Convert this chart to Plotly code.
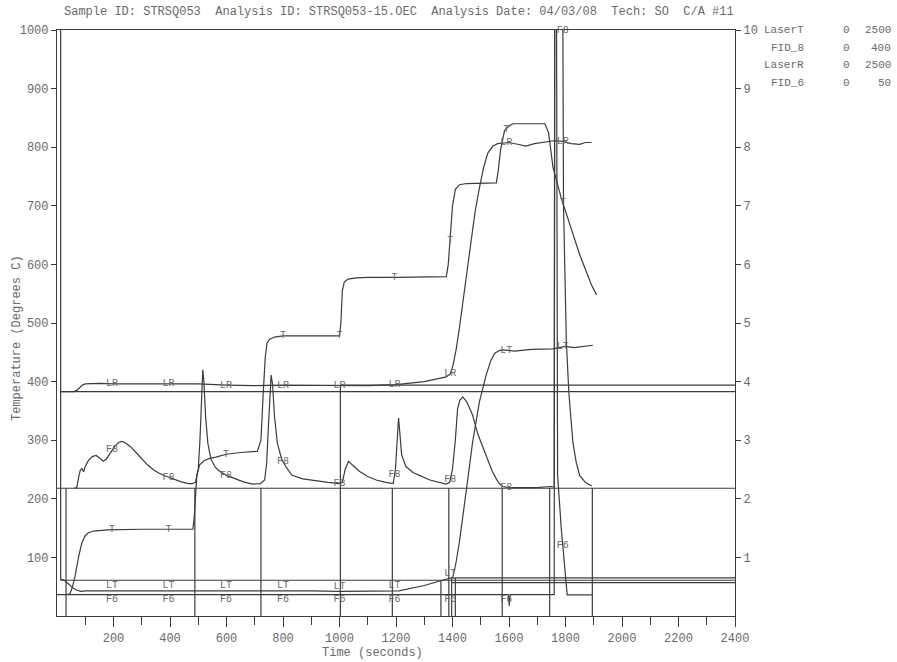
import numpy as np
import plotly.graph_objects as go

# ---------------- data ----------------
t_T = [35, 46, 55, 64, 76, 88, 100, 111, 130, 180, 300, 400, 481, 486, 490, 495, 505, 520, 540, 562,
       600, 650, 709, 722, 730, 737, 743, 752, 770, 800, 900, 1000, 1005, 1010, 1017, 1030, 1060,
       1100, 1200, 1300, 1378, 1385, 1392, 1400, 1410, 1425, 1450, 1500, 1555, 1562, 1570, 1584,
       1600, 1614, 1650, 1700, 1727, 1740, 1756, 1785, 1820, 1850, 1892, 1910]
v_T = [37, 38, 50, 68, 100, 125, 137, 142, 145, 147, 148, 148, 148, 170, 205, 240, 258, 265, 269, 271,
       276, 279, 281, 300, 380, 440, 465, 472, 476, 478, 478, 478, 500, 555, 570, 575, 577,
       578, 578, 578, 579, 600, 640, 700, 728, 736, 738, 738, 739, 760, 795, 828,
       836, 840, 840, 840, 840, 825, 765, 713, 660, 617, 565, 548]

t_LR = [13, 60, 70, 80, 90, 100, 150, 200, 300, 400, 500, 600, 700, 800, 900, 1000, 1100, 1200,
        1300, 1378, 1392, 1402, 1413, 1424, 1440, 1460, 1480, 1495, 1510, 1525, 1543, 1560, 1600,
        1630, 1660, 1690, 1720, 1760, 1790, 1820, 1850, 1870, 1892]
v_LR = [383, 383, 385, 390, 394, 396, 397, 396, 396, 397, 396, 394, 393, 394, 394, 393, 393, 395,
        400, 408, 413, 428, 455, 490, 550, 620, 690, 730, 765, 790, 802, 806, 808,
        805, 802, 806, 808, 811, 810, 806, 805, 808, 808]

t_LT = [13, 13, 20, 28, 40, 55, 70, 85, 100, 200, 300, 400, 500, 600, 700, 800, 900, 1000, 1100,
        1211, 1300, 1377, 1401, 1412, 1424, 1448, 1471, 1495, 1519, 1535, 1549, 1565, 1578, 1620,
        1680, 1755, 1800, 1830, 1897]
v_LT = [1100, 62, 62, 60, 55, 48, 44, 42, 43, 43, 43, 44, 44, 44, 43, 44, 43, 42, 42,
        43, 52, 62, 66, 90, 125, 211, 296, 365, 411, 435, 448, 453, 454, 452,
        455, 456, 460, 458, 462]

t_F8 = [60, 70, 78, 82, 88, 94, 100, 112, 125, 138, 150, 163, 175, 190, 205, 218, 229, 240, 260,
        280, 300, 320, 340, 360, 384, 410, 440, 465, 478, 490, 500, 506, 512, 516, 520, 526, 534,
        545, 560, 573, 600, 630, 660, 691, 720, 735, 742, 748, 754, 758, 763, 770, 780, 795, 810,
        832, 870, 920, 960, 998, 1010, 1020, 1032, 1045, 1070, 1100, 1130, 1164, 1190, 1198, 1203,
        1209, 1214, 1220, 1235, 1260, 1283, 1320, 1377, 1390, 1400, 1410, 1418, 1426, 1436, 1450,
        1471, 1490, 1519, 1540, 1555, 1565, 1578, 1600, 1700, 1735, 1745, 1760, 1762, 1790, 1793,
        1803, 1812, 1826, 1838, 1850, 1870, 1893]
v_F8 = [218, 219, 240, 248, 252, 246, 255, 266, 272, 274, 270, 264, 268, 280, 290, 296, 298, 296, 289,
        279, 268, 258, 250, 244, 239, 234, 229, 226, 226, 228, 250, 300, 380, 420, 400, 340, 295,
        268, 254, 248, 240, 234, 229, 225, 226, 232, 260, 320, 390, 411, 395, 340, 295, 268, 255,
        240, 234, 230, 228, 226, 228, 250, 264, 258, 247, 238, 232, 228, 226, 250, 300,
        338, 310, 275, 255, 245, 240, 232, 225, 228, 251, 300, 354, 368, 374, 366,
        343, 310, 274, 248, 234, 226, 221, 219, 219, 221, 221, 220, 1100, 1100, 700,
        468, 380, 297, 262, 240, 228, 222]

t_F6 = [0, 1598, 1601, 1604, 1760, 1762, 1768, 1772, 1785, 1801, 1806, 1895]
v_F6 = [36.5, 36.5, 17, 36.5, 36.5, 1100, 1100, 240, 150, 57, 36, 36]

# vertical reference marks (time, top level) and horizontal reference lines (level, start time)
ref_times = [32, 488, 722, 1003, 1187, 1359, 1387, 1397, 1410, 1576, 1744, 1895]
ref_tops = [218, 218, 218, 394, 218, 60, 218, 65, 65, 218, 218, 218]
h_levels = [383, 394, 218, 61, 65, 57]
h_starts = [13, 1003, 0, 13, 1397, 1397]

label_times = [195, 395, 598, 800, 1000, 1195, 1392, 1590, 1790]

title_text = ("Sample ID: STRSQ053  Analysis ID: STRSQ053-15.OEC  "
              "Analysis Date: 04/03/08  Tech: SO  C/A #11")
legend_names = ["LaserT", "FID_8", "LaserR", "FID_6"]
legend_min = ["0", "0", "0", "0"]
legend_max = ["2500", "400", "2500", "50"]

# ---------------- figure ----------------
LINE = "#3c3c3c"
TXT = "#6a6a6a"
MONO = "Liberation Mono, Courier New, monospace"

fig = go.Figure()

def add_line(x, y):
    fig.add_trace(go.Scatter(x=x, y=y, mode="lines", line=dict(color=LINE, width=1.2),
                             hoverinfo="skip", showlegend=False))

# reference lines
hx, hy = [], []
for lev, st in zip(h_levels, h_starts):
    hx += [st, 2400, None]
    hy += [lev, lev, None]
add_line(hx, hy)
vx, vy = [], []
for t, top in zip(ref_times, ref_tops):
    vx += [t, t, None]
    vy += [top, 0, None]
add_line(vx, vy)

series = [("T", t_T, v_T), ("LR", t_LR, v_LR), ("LT", t_LT, v_LT), ("F8", t_F8, v_F8), ("F6", t_F6, v_F6)]
for name, tx, ty in series:
    add_line(tx, ty)

label_pos = {"LT": "top center", "F6": "bottom center"}
for name, tx, ty in series:
    xs = [t for t in label_times if tx[0] <= t <= tx[-1]]
    ys = [min(float(np.interp(t, tx, ty)), 1000) for t in xs]
    pos = [label_pos.get(name, "middle center") if y < 100 else "middle center" for y in ys]
    fig.add_trace(go.Scatter(x=xs, y=ys, mode="text", text=[name] * len(xs),
                             textposition=pos, cliponaxis=False,
                             marker=dict(color=TXT),
                             textfont=dict(family=MONO, size=10, color=[TXT] * len(xs)),
                             hoverinfo="skip", showlegend=False))

# dummy trace for right axis
fig.add_trace(go.Scatter(x=[None], y=[None], yaxis="y2", showlegend=False, hoverinfo="skip"))

axis_common = dict(showgrid=False, zeroline=False, showline=True, linecolor=LINE, linewidth=1.2,
                   ticks="outside", tickcolor=LINE, tickfont=dict(family=MONO, size=12, color=TXT))

fig.update_layout(
    width=897, height=662,
    margin=dict(l=57, r=162, t=30, b=46),
    paper_bgcolor="white", plot_bgcolor="white",
    xaxis=dict(range=[0, 2400], tickvals=list(range(200, 2401, 200)), ticklen=10, mirror=True,
               minor=dict(tickvals=list(range(100, 2400, 200)), ticks="outside", ticklen=8,
                          tickcolor=LINE),
               **axis_common),
    yaxis=dict(range=[0, 1000], tickvals=list(range(100, 1001, 100)), ticklen=5, mirror=False,
               **axis_common),
    yaxis2=dict(range=[0, 10], overlaying="y", side="right", tickvals=list(range(1, 11)),
                ticklen=5, **axis_common),
)

ann = []
ann.append(dict(text=title_text, x=(62 - 57) / 678, y=(616 - 12) / 586, xref="paper", yref="paper",
                xanchor="left", yanchor="middle", showarrow=False,
                font=dict(family=MONO, size=12, color=TXT)))
ann.append(dict(text="Temperature (Degrees C)", x=(17 - 57) / 678, y=(616 - 338) / 586,
                xref="paper", yref="paper", textangle=-90, showarrow=False,
                xanchor="center", yanchor="middle", font=dict(family=MONO, size=12, color=TXT)))
ann.append(dict(text="Time (seconds)", x=(372 - 57) / 678, y=(616 - 653) / 586,
                xref="paper", yref="paper", showarrow=False, xanchor="center", yanchor="middle",
                font=dict(family=MONO, size=12, color=TXT)))
rows_py = [30, 48, 65, 83]
for nm, mn, mx, py in zip(legend_names, legend_min, legend_max, rows_py):
    yp = (616 - py) / 586
    ann.append(dict(text=nm, x=(806 - 57) / 678, y=yp, xref="paper", yref="paper", showarrow=False,
                    xanchor="right", yanchor="middle", font=dict(family=MONO, size=11, color=TXT)))
    ann.append(dict(text=mn, x=(846 - 57) / 678, y=yp, xref="paper", yref="paper", showarrow=False,
                    xanchor="center", yanchor="middle", font=dict(family=MONO, size=11, color=TXT)))
    ann.append(dict(text=mx, x=(893 - 57) / 678, y=yp, xref="paper", yref="paper", showarrow=False,
                    xanchor="right", yanchor="middle", font=dict(family=MONO, size=11, color=TXT)))
fig.update_layout(annotations=ann)

fig.write_html("out.html")
